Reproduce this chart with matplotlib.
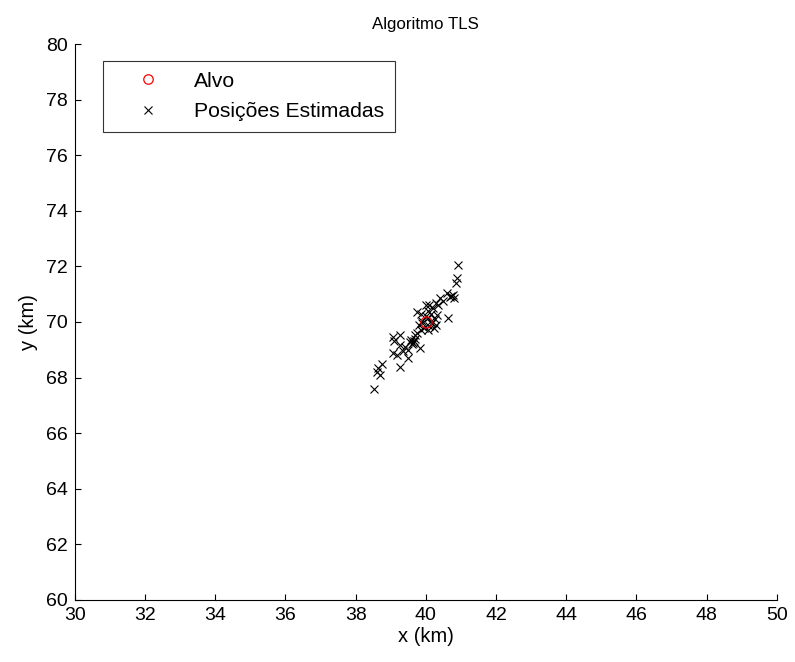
import matplotlib
matplotlib.use("Agg")
import matplotlib.pyplot as plt

plt.rcParams['font.family'] = ['Liberation Sans', 'DejaVu Sans']

target_x = [40.0]
target_y = [70.0]

est_x = [38.52, 38.60, 38.63, 38.75, 38.70, 39.06, 39.26, 39.49, 39.17, 39.10,
         39.06, 39.26, 39.26, 39.35, 39.55, 39.60, 39.65, 39.58, 39.62, 39.70,
         39.68, 39.83, 39.74, 39.80, 39.90, 39.95, 40.00, 40.05, 40.10, 40.17,
         40.06, 40.31, 40.20, 40.25, 40.15, 40.10, 40.30, 40.40, 40.60, 40.77,
         40.70, 40.80, 40.85, 40.88, 40.91, 40.63, 39.85, 40.00, 40.12, 40.22,
         39.90, 40.05, 40.35, 40.50, 40.72, 39.75, 39.40, 39.50, 39.85, 40.28]
est_y = [67.59, 68.20, 68.35, 68.50, 68.10, 68.88, 68.38, 68.70, 68.80, 69.30,
         69.46, 69.53, 69.17, 68.95, 69.28, 69.20, 69.30, 69.35, 69.25, 69.40,
         69.55, 69.06, 70.36, 69.90, 70.05, 69.80, 70.20, 70.40, 70.60, 69.96,
         69.71, 70.25, 70.50, 70.10, 70.30, 69.85, 70.70, 70.86, 71.04, 70.97,
         70.90, 70.85, 71.40, 71.58, 72.05, 70.14, 69.70, 70.60, 70.00, 69.80,
         69.95, 70.15, 70.60, 70.75, 70.95, 69.60, 69.10, 69.00, 70.30, 69.90]

fig = plt.figure(figsize=(7.95, 6.62), dpi=100)
ax = fig.add_axes([0.0943, 0.0937, 0.8827, 0.8398])

ax.plot(target_x, target_y, 'o', markersize=8, markerfacecolor='none',
        markeredgecolor='red', markeredgewidth=0.9, label='Alvo', zorder=3)
ax.plot(est_x, est_y, 'x', markersize=6, color='black', markeredgewidth=0.8,
        label='Posições Estimadas', zorder=2)

ax.set_xlim(30, 50)
ax.set_ylim(60, 80)
ax.set_xticks(range(30, 51, 2))
ax.set_yticks(range(60, 81, 2))
ax.tick_params(direction='in', length=4, labelsize=14, width=0.8, pad=5)
for s in ['top', 'right']:
    ax.spines[s].set_visible(False)
for s in ['left', 'bottom']:
    ax.spines[s].set_linewidth(0.8)

ax.set_xlabel('x (km)', fontsize=14.5, labelpad=2)
ax.set_ylabel('y (km)', fontsize=14.5, labelpad=6)
ax.set_title('Algoritmo TLS', fontsize=12.2, pad=11)

leg = ax.legend(loc='upper left', bbox_to_anchor=(0.0399, 0.849, 0.416, 0.12),
                mode='expand', borderaxespad=0, fontsize=15.2,
                frameon=True, fancybox=False, edgecolor='black',
                handletextpad=0.5, borderpad=0.5, labelspacing=0.55,
                handlelength=3.3, markerscale=0.85)
leg.get_frame().set_linewidth(0.8)

fig.savefig('out.png', dpi=100)
